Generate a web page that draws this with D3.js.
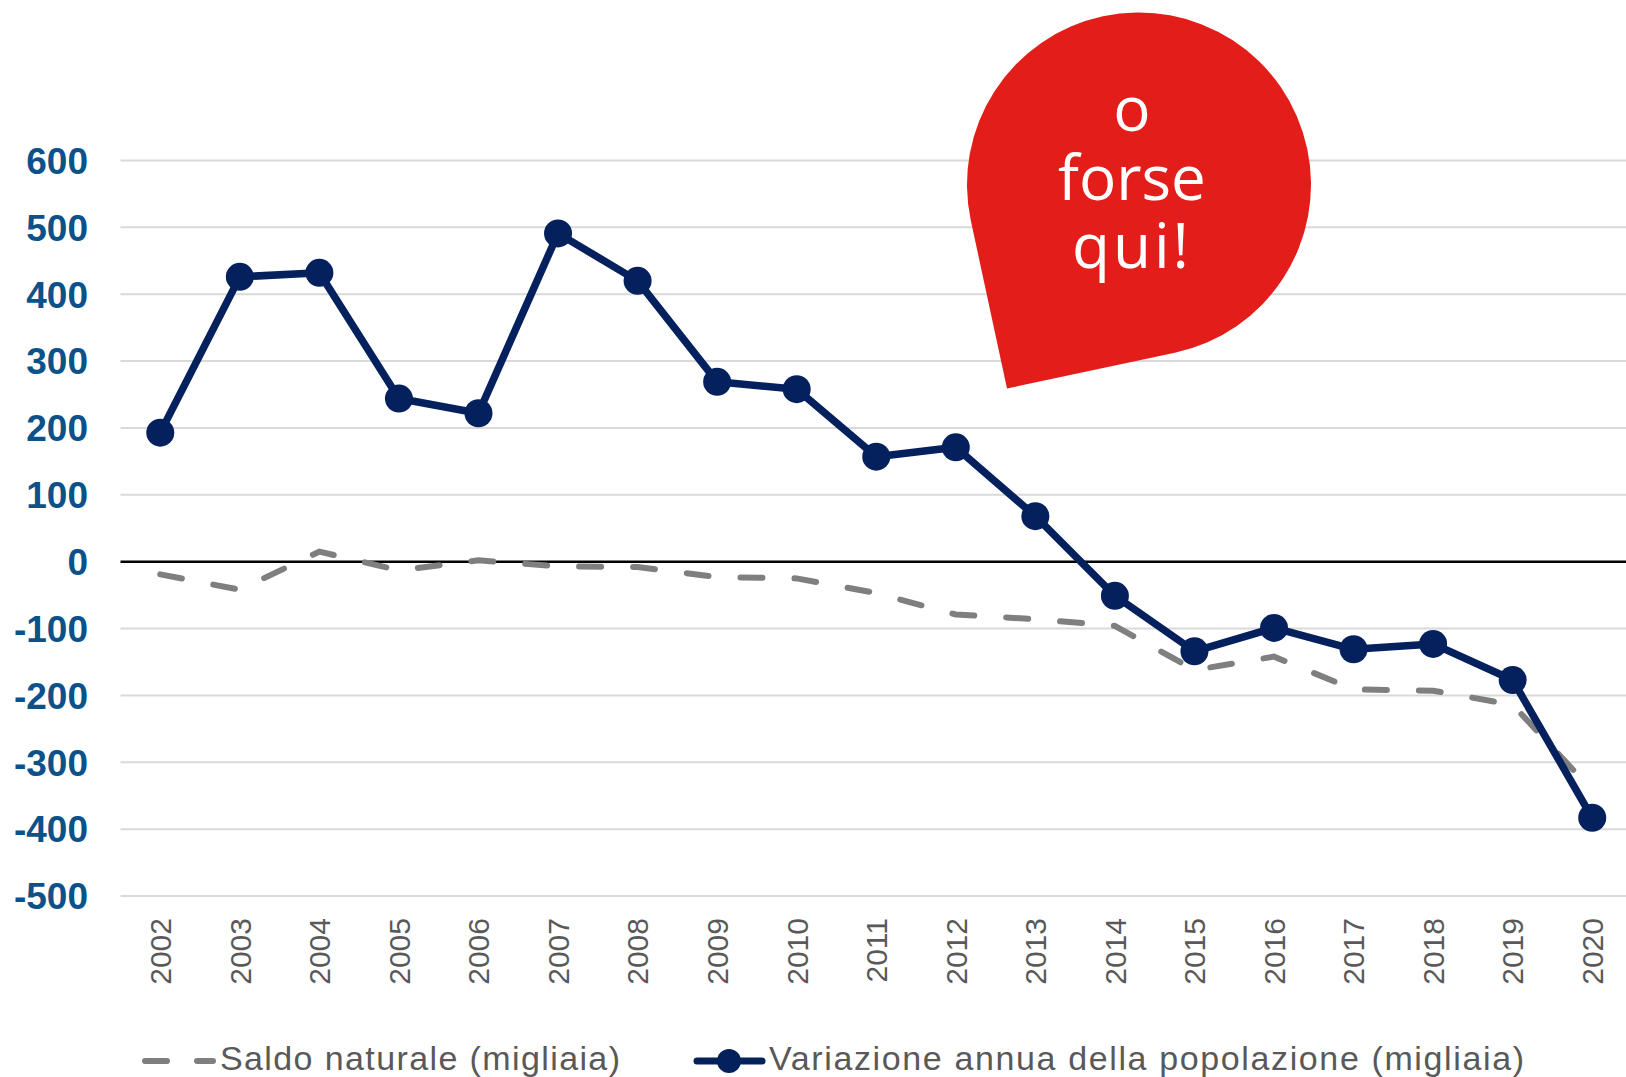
<!DOCTYPE html>
<html>
<head>
<meta charset="utf-8">
<script src="https://cdn.jsdelivr.net/npm/d3@7"></script>
<style>
    html, body { margin: 0; padding: 0; background: #fff; overflow: hidden; }
    svg { display: block; }
</style>
</head>
<body>
<div id="chart"></div>
<script>
var years = ['2002', '2003', '2004', '2005', '2006', '2007', '2008', '2009', '2010', '2011',
    '2012', '2013', '2014', '2015', '2016', '2017', '2018', '2019', '2020'];
var variazione = [193, 426, 432, 244, 222, 491, 420, 269, 258, 157, 171, 68, -51, -134, -99, -131, -123, -177, -383];
var saldo = [-19, -42, 15, -13, 2, -7, -8, -23, -25, -47, -79, -86, -96, -162, -142, -191, -193, -214, -342];
var yTicks = [-500, -400, -300, -200, -100, 0, 100, 200, 300, 400, 500, 600];
var legendLabels = ['Saldo naturale (migliaia)', 'Variazione annua della popolazione (migliaia)'];
var bubbleLines = ['o', 'forse', 'qui!'];

var width = 1626;
var height = 1077;
var navy = '#04215e';
var grey = '#7f7f7f';

var svg = d3.select('#chart').append('svg')
    .attr('width', width)
    .attr('height', height);

var x = d3.scaleBand()
    .domain(years)
    .range([120.5, 1632]);

var y = d3.scaleLinear()
    .domain([-500, 600])
    .range([896, 160.5]);

function cx(d, i) {
    return x(years[i]) + x.bandwidth() / 2;
}

// gridlines
svg.append('g')
    .selectAll('line')
    .data(yTicks.filter(function(t) { return t !== 0; }))
    .enter().append('line')
    .attr('x1', 120.5)
    .attr('x2', width)
    .attr('y1', function(d) { return y(d); })
    .attr('y2', function(d) { return y(d); })
    .attr('stroke', '#d9d9d9')
    .attr('stroke-width', 2);

// y labels
svg.append('g')
    .selectAll('text')
    .data(yTicks)
    .enter().append('text')
    .attr('x', 88)
    .attr('y', function(d) { return y(d); })
    .attr('dy', '0.36em')
    .attr('text-anchor', 'end')
    .attr('font-family', 'Liberation Sans, Arial, sans-serif')
    .attr('font-weight', 'bold')
    .attr('font-size', 37)
    .attr('fill', '#0c5189')
    .text(function(d) { return d; });

// x labels, rotated
svg.append('g')
    .selectAll('text')
    .data(years)
    .enter().append('text')
    .attr('transform', function(d) {
        return 'translate(' + (x(d) + x.bandwidth() / 2) + ',918) rotate(-90)';
    })
    .attr('dy', '0.36em')
    .attr('text-anchor', 'end')
    .attr('font-family', 'Liberation Sans, Arial, sans-serif')
    .attr('font-size', 30)
    .attr('fill', '#595959')
    .text(function(d) { return d; });

// zero line
svg.append('line')
    .attr('x1', 120.5)
    .attr('x2', width)
    .attr('y1', y(0))
    .attr('y2', y(0))
    .attr('stroke', '#000')
    .attr('stroke-width', 2.5);

var line = d3.line()
    .x(cx)
    .y(function(d) { return y(d); });

svg.append('path')
    .datum(saldo)
    .attr('d', line)
    .attr('fill', 'none')
    .attr('stroke', grey)
    .attr('stroke-width', 6)
    .attr('stroke-linecap', 'round')
    .attr('stroke-dasharray', '22,32');

svg.append('path')
    .datum(variazione)
    .attr('d', line)
    .attr('fill', 'none')
    .attr('stroke', navy)
    .attr('stroke-width', 7.5)
    .attr('stroke-linejoin', 'round');

svg.append('g')
    .selectAll('circle')
    .data(variazione)
    .enter().append('circle')
    .attr('cx', cx)
    .attr('cy', function(d) { return y(d); })
    .attr('r', 14)
    .attr('fill', navy);

// annotation bubble (teardrop with square tip)
var bc = [1139, 184.5];
var br = 172;
var tip = [1007, 388.5];
var dx = tip[0] - bc[0];
var dy = tip[1] - bc[1];
var dist = Math.sqrt(dx * dx + dy * dy);
var theta = Math.atan2(dy, dx);
var phi = Math.acos(br / dist);
var pa = [bc[0] + br * Math.cos(theta + phi), bc[1] + br * Math.sin(theta + phi)];
var bubble = d3.path();
bubble.moveTo(tip[0], tip[1]);
bubble.lineTo(pa[0], pa[1]);
bubble.arc(bc[0], bc[1], br, theta + phi, theta - phi + 2 * Math.PI);
bubble.closePath();

svg.append('path')
    .attr('d', bubble.toString())
    .attr('fill', '#e31e1a');

svg.append('g')
    .selectAll('text')
    .data(bubbleLines)
    .enter().append('text')
    .attr('x', 1132)
    .attr('y', function(d, i) { return 131 + i * 68.5; })
    .attr('text-anchor', 'middle')
    .attr('font-family', 'Open Sans, Noto Sans, sans-serif')
    .attr('font-size', 62)
    .attr('letter-spacing', function(d, i) { return i === 2 ? 3 : 0; })
    .attr('fill', '#fff')
    .text(function(d) { return d; });

// legend
var legend = svg.append('g');

legend.append('line')
    .attr('x1', 145)
    .attr('x2', 213)
    .attr('y1', 1061)
    .attr('y2', 1061)
    .attr('stroke', grey)
    .attr('stroke-width', 6)
    .attr('stroke-linecap', 'round')
    .attr('stroke-dasharray', '22,30');

legend.append('line')
    .attr('x1', 697)
    .attr('x2', 762)
    .attr('y1', 1061)
    .attr('y2', 1061)
    .attr('stroke', navy)
    .attr('stroke-width', 7)
    .attr('stroke-linecap', 'round');

legend.append('circle')
    .attr('cx', 729)
    .attr('cy', 1061)
    .attr('r', 12)
    .attr('fill', navy);

legend.selectAll('text')
    .data(legendLabels)
    .enter().append('text')
    .attr('x', function(d, i) { return i === 0 ? 220 : 769; })
    .attr('y', 1070)
    .attr('font-family', 'Liberation Sans, Arial, sans-serif')
    .attr('font-size', 34)
    .attr('textLength', function(d, i) { return i === 0 ? 400 : 755; })
    .attr('lengthAdjust', 'spacing')
    .attr('fill', '#595959')
    .text(function(d) { return d; });
</script>
</body>
</html>
